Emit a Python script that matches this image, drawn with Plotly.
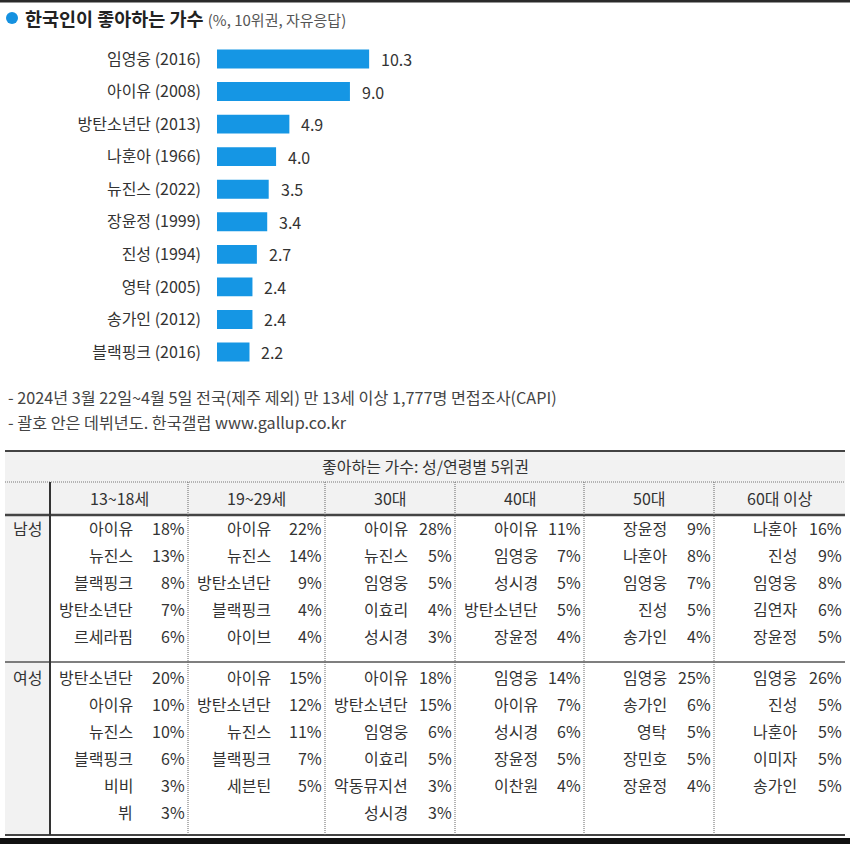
import plotly.graph_objects as go

W, H = 850, 844
FONT = "Noto Sans CJK KR"

# ---------------- data ----------------
singers = ["임영웅 (2016)", "아이유 (2008)", "방탄소년단 (2013)", "나훈아 (1966)", "뉴진스 (2022)",
           "장윤정 (1999)", "진성 (1994)", "영탁 (2005)", "송가인 (2012)", "블랙핑크 (2016)"]
shares = [10.3, 9.0, 4.9, 4.0, 3.5, 3.4, 2.7, 2.4, 2.4, 2.2]

title_main = "한국인이 좋아하는 가수"
title_sub = "(%, 10위권, 자유응답)"
notes = ["- 2024년 3월 22일~4월 5일 전국(제주 제외) 만 13세 이상 1,777명 면접조사(CAPI)",
         "- 괄호 안은 데뷔년도. 한국갤럽 www.gallup.co.kr"]

table_title = "좋아하는 가수: 성/연령별 5위권"
age_groups = ["13~18세", "19~29세", "30대", "40대", "50대", "60대 이상"]
sexes = ["남성", "여성"]

male_names = [
    ["아이유", "뉴진스", "블랙핑크", "방탄소년단", "르세라핌"],
    ["아이유", "뉴진스", "방탄소년단", "블랙핑크", "아이브"],
    ["아이유", "뉴진스", "임영웅", "이효리", "성시경"],
    ["아이유", "임영웅", "성시경", "방탄소년단", "장윤정"],
    ["장윤정", "나훈아", "임영웅", "진성", "송가인"],
    ["나훈아", "진성", "임영웅", "김연자", "장윤정"],
]
male_pcts = [
    [18, 13, 8, 7, 6],
    [22, 14, 9, 4, 4],
    [28, 5, 5, 4, 3],
    [11, 7, 5, 5, 4],
    [9, 8, 7, 5, 4],
    [16, 9, 8, 6, 5],
]
female_names = [
    ["방탄소년단", "아이유", "뉴진스", "블랙핑크", "비비", "뷔"],
    ["아이유", "방탄소년단", "뉴진스", "블랙핑크", "세븐틴"],
    ["아이유", "방탄소년단", "임영웅", "이효리", "악동뮤지션", "성시경"],
    ["임영웅", "아이유", "성시경", "장윤정", "이찬원"],
    ["임영웅", "송가인", "영탁", "장민호", "장윤정"],
    ["임영웅", "진성", "나훈아", "이미자", "송가인"],
]
female_pcts = [
    [20, 10, 10, 6, 3, 3],
    [15, 12, 11, 7, 5],
    [18, 15, 6, 5, 3, 3],
    [14, 7, 6, 5, 4],
    [25, 6, 5, 5, 4],
    [26, 5, 5, 5, 5],
]

# ---------------- helpers ----------------
def px(x):
    return x / W

def py(y):
    return 1 - y / H

BAR_COLOR = "#1596e4"
TXT = "#333333"

fig = go.Figure()

fig.add_trace(go.Bar(
    x=shares, y=singers, orientation="h",
    marker=dict(color=BAR_COLOR, line=dict(width=0)),
    width=0.58, hoverinfo="skip",
))

annotations = []
shapes = []

# value labels next to bars
for s, v in zip(singers, shares):
    annotations.append(dict(x=v, y=s, xref="x", yref="y", text=f"{v:.1f}", showarrow=False,
                            xanchor="left", yanchor="middle", xshift=10,
                            font=dict(family=FONT, size=16, color=TXT)))

# title
shapes.append(dict(type="circle", xref="paper", yref="paper", x0=px(6), x1=px(18), y0=py(24), y1=py(12),
                   fillcolor="#1591e0", line=dict(width=0)))
annotations.append(dict(x=px(23), y=py(18), xref="paper", yref="paper", xanchor="left", yanchor="middle",
                        showarrow=False,
                        text=f"<b>{title_main}</b> <span style='font-size:15px;color:#555555'>{title_sub}</span>",
                        font=dict(family=FONT, size=18.5, color="#222222")))

# notes
for i, n in enumerate(notes):
    annotations.append(dict(x=px(6), y=py(397 + 25 * i), xref="paper", yref="paper", xanchor="left",
                            yanchor="middle", showarrow=False, text=n,
                            font=dict(family=FONT, size=16.2, color="#444444")))

# top border
shapes.append(dict(type="rect", xref="paper", yref="paper", x0=0, x1=1, y0=py(2.5), y1=1,
                   fillcolor="#2a2a2a", line=dict(width=0)))

# ---------------- table ----------------
L, R = 5, 845
T_TOP, T_DOT, T_HEAD, T_MID, T_BOT = 451, 482, 515, 662, 835
col_edges = [50, 188, 325, 455, 584, 714, 845]
GREY = "#f2f2f2"
LINE = "#444444"

shapes.append(dict(type="rect", xref="paper", yref="paper", x0=px(L), x1=px(R), y0=py(T_HEAD), y1=py(T_TOP),
                   fillcolor=GREY, line=dict(width=0), layer="below"))
shapes.append(dict(type="rect", xref="paper", yref="paper", x0=px(L), x1=px(col_edges[0]), y0=py(T_BOT),
                   y1=py(T_HEAD), fillcolor=GREY, line=dict(width=0), layer="below"))

def hline(y, w, color=LINE, dash="solid"):
    shapes.append(dict(type="line", xref="paper", yref="paper", x0=px(L), x1=px(R), y0=py(y), y1=py(y),
                       line=dict(color=color, width=w, dash=dash)))

def vline(x, w, color=LINE, dash="solid"):
    shapes.append(dict(type="line", xref="paper", yref="paper", x0=px(x), x1=px(x), y0=py(T_BOT), y1=py(T_DOT),
                       line=dict(color=color, width=w, dash=dash)))

hline(T_TOP, 2)
hline(T_DOT, 1, "#777777", "1px,1px")
hline(T_HEAD, 2.5)
hline(T_MID, 1.5, "#555555")
hline(T_BOT, 2)
vline(col_edges[0], 2, "#333333")
for x in col_edges[1:-1]:
    vline(x, 1, "#666666", "1px,1px")

# bottom band
shapes.append(dict(type="rect", xref="paper", yref="paper", x0=0, x1=1, y0=0, y1=py(838),
                   fillcolor="#111111", line=dict(width=0)))

tfont = dict(family=FONT, size=16, color=TXT)
annotations.append(dict(x=px((L + R) / 2), y=py(466), xref="paper", yref="paper", showarrow=False,
                        text=table_title, xanchor="center", yanchor="middle", font=tfont))
for j, g in enumerate(age_groups):
    cx = (col_edges[j] + col_edges[j + 1]) / 2
    annotations.append(dict(x=px(cx), y=py(498), xref="paper", yref="paper", showarrow=False, text=g,
                            xanchor="center", yanchor="middle", font=tfont))

row_start = {"남성": 528, "여성": 677}
ROW_H = 26.9
for sex, names_all, pcts_all in [("남성", male_names, male_pcts), ("여성", female_names, female_pcts)]:
    y0 = row_start[sex]
    annotations.append(dict(x=px((L + col_edges[0]) / 2), y=py(y0), xref="paper", yref="paper",
                            showarrow=False, text=sex, xanchor="center", yanchor="middle", font=tfont))
    for j in range(len(age_groups)):
        left, right = col_edges[j], col_edges[j + 1]
        for i, (nm, pc) in enumerate(zip(names_all[j], pcts_all[j])):
            yy = py(y0 + ROW_H * i)
            annotations.append(dict(x=px(left + 85), y=yy, xref="paper", yref="paper", showarrow=False,
                                    text=nm, xanchor="right", yanchor="middle", font=tfont))
            annotations.append(dict(x=px(right - 1.5), y=yy, xref="paper", yref="paper", showarrow=False,
                                    text=f"{pc}%", xanchor="right", yanchor="middle", font=tfont))

SCALE = 14.77
fig.update_layout(
    width=W, height=H, margin=dict(l=0, r=0, t=0, b=0),
    paper_bgcolor="white", plot_bgcolor="white", showlegend=False,
    xaxis=dict(domain=[px(217), px(217 + SCALE * 12)], range=[0, 12], visible=False, fixedrange=True),
    yaxis=dict(domain=[py(368.3), py(42.7)], type="category", categoryorder="array", categoryarray=singers,
               range=[9.5, -0.5], showgrid=False, showline=False, zeroline=False, ticks="",
               ticklabelstandoff=15, tickfont=dict(family=FONT, size=16, color=TXT), fixedrange=True),
    shapes=shapes, annotations=annotations,
    bargap=0.4,
)

fig.write_html("out.html", config={"displayModeBar": False},
               post_script="document.documentElement.style.margin='0';document.body.style.margin='0';"
                           "document.body.style.overflow='hidden';")
